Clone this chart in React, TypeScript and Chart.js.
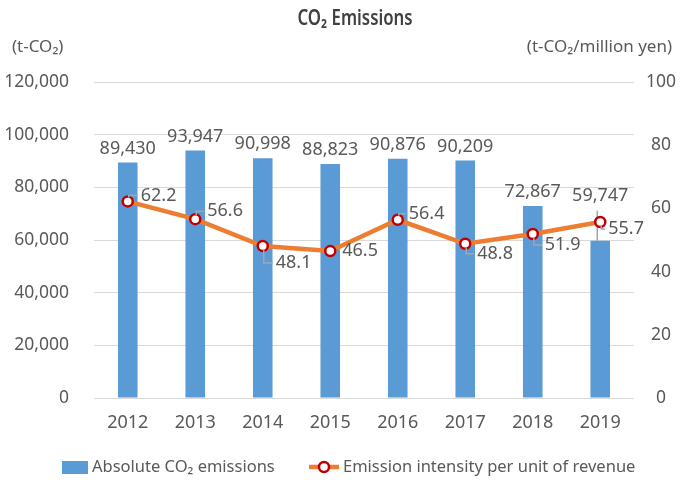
import React, { useEffect, useRef } from "react";
import { Chart, registerables } from "chart.js";

Chart.register(...registerables);

const years = ["2012", "2013", "2014", "2015", "2016", "2017", "2018", "2019"];
const absoluteEmissions = [89430, 93947, 90998, 88823, 90876, 90209, 72867, 59747];
const emissionIntensity = [62.2, 56.6, 48.1, 46.5, 56.4, 48.8, 51.9, 55.7];
const leftAxisMax = 120000;
const leftAxisStep = 20000;
const rightAxisMax = 100;
const rightAxisStep = 20;

const titleText = "CO₂ Emissions";
const leftUnit = "(t-CO₂)";
const rightUnit = "(t-CO₂/million yen)";
const barLegend = "Absolute CO₂ emissions";
const lineLegend = "Emission intensity per unit of revenue";

// label styling (offsets relative to the mark, in px)
const intensityLabelOffsets: [number, number][] = [
  [13, -6], [12, -8], [13, 17], [12, 0], [11, -6], [12, 10], [12, 11], [8, 7],
];
const barLabelLift = [0, 0, 0, 0, 0, 0, 0, 31];

const FONT = '"Noto Sans", sans-serif';
const TEXT = "#595959";
const BAR = "#5B9BD5";
const LINE = "#ED7D31";
const POINT = "#C00000";
const LEADER = "#A6A6A6";

const labelPlugin = {
  id: "customLabels",
  afterDatasetDraw(chart: any, args: any) {
    const ctx = chart.ctx;
    if (args.index === 0) {
      const meta = chart.getDatasetMeta(0);
      ctx.save();
      ctx.font = `18px ${FONT}`;
      ctx.fillStyle = TEXT;
      ctx.textAlign = "center";
      ctx.textBaseline = "middle";
      meta.data.forEach((el: any, i: number) => {
        const lift = barLabelLift[i];
        const ly = el.y - 14 - lift;
        if (lift > 0) {
          ctx.strokeStyle = LEADER;
          ctx.lineWidth = 1.5;
          ctx.beginPath();
          ctx.moveTo(el.x - 3, el.y);
          ctx.lineTo(el.x - 3, ly + 15);
          ctx.stroke();
        }
        ctx.fillText(absoluteEmissions[i].toLocaleString("en-US"), el.x, ly);
      });
      ctx.restore();
    }
  },
  afterDatasetsDraw(chart: any) {
    const ctx = chart.ctx;
    const meta = chart.getDatasetMeta(1);
    ctx.save();
    ctx.font = `18px ${FONT}`;
    ctx.fillStyle = TEXT;
    ctx.textAlign = "left";
    ctx.textBaseline = "middle";
    meta.data.forEach((el: any, i: number) => {
      const [dx, dy] = intensityLabelOffsets[i];
      const px = el.x, py = el.y;
      if (Math.abs(dy) > 3) {
        const s = Math.sign(dy);
        ctx.strokeStyle = LEADER;
        ctx.lineWidth = 1.5;
        ctx.beginPath();
        ctx.moveTo(px + 1, py + s * 4);
        ctx.lineTo(px + 1, py + dy);
        ctx.lineTo(px + dx - 3, py + dy);
        ctx.stroke();
      }
      ctx.fillText(emissionIntensity[i].toFixed(1), px + dx, py + dy);
    });
    ctx.restore();
  },
  afterDraw(chart: any) {
    const ctx = chart.ctx;
    ctx.save();
    // title (condensed)
    ctx.fillStyle = "#404040";
    ctx.font = `600 21px ${FONT}`;
    ctx.textAlign = "center";
    ctx.textBaseline = "middle";
    ctx.save();
    ctx.translate(355, 19);
    ctx.scale(0.8, 1);
    ctx.fillText(titleText, 0, 0);
    ctx.restore();
    // units
    ctx.fillStyle = TEXT;
    ctx.font = `17px ${FONT}`;
    ctx.textAlign = "left";
    ctx.fillText(leftUnit, 12, 47);
    ctx.textAlign = "right";
    ctx.fillText(rightUnit, 672, 47);
    // legend
    const ly = 467;
    ctx.font = `16.5px ${FONT}`;
    ctx.fillStyle = BAR;
    ctx.fillRect(62, ly - 6, 26, 13);
    ctx.fillStyle = TEXT;
    ctx.textAlign = "left";
    ctx.fillText(barLegend, 92, ly);
    ctx.strokeStyle = LINE;
    ctx.lineWidth = 4.5;
    ctx.beginPath();
    ctx.moveTo(309, ly);
    ctx.lineTo(339, ly);
    ctx.stroke();
    ctx.beginPath();
    ctx.arc(324, ly, 5, 0, Math.PI * 2);
    ctx.fillStyle = "#ffffff";
    ctx.fill();
    ctx.strokeStyle = POINT;
    ctx.lineWidth = 2.5;
    ctx.stroke();
    ctx.fillStyle = TEXT;
    ctx.fillText(lineLegend, 343, ly);
    ctx.restore();
  },
};

export default function App() {
  const ref = useRef<HTMLCanvasElement | null>(null);
  useEffect(() => {
    document.body.style.margin = "0";
    if (!ref.current) return;
    const chart = new Chart(ref.current, {
      type: "bar",
      data: {
        labels: years,
        datasets: [
          {
            type: "bar",
            label: barLegend,
            data: absoluteEmissions,
            backgroundColor: BAR,
            yAxisID: "y",
            order: 1,
            categoryPercentage: 1,
            barPercentage: 0.29,
          },
          {
            type: "line",
            label: lineLegend,
            data: emissionIntensity,
            borderColor: LINE,
            borderWidth: 4.5,
            pointRadius: 5,
            pointBorderWidth: 2.5,
            pointBackgroundColor: "#ffffff",
            pointBorderColor: POINT,
            yAxisID: "y1",
            order: 0,
            tension: 0,
          } as any,
        ],
      },
      options: {
        animation: false,
        responsive: false,
        maintainAspectRatio: false,
        layout: { padding: { top: 82, bottom: 42, left: 0, right: 0 } },
        plugins: {
          legend: { display: false },
          title: { display: false },
          tooltip: { enabled: false },
        },
        scales: {
          x: {
            grid: { display: false, drawTicks: false },
            border: { display: false },
            ticks: { color: TEXT, font: { family: FONT, size: 18 }, padding: 14 },
            afterFit: (s: any) => { s.height = 40; },
          },
          y: {
            position: "left",
            min: 0,
            max: leftAxisMax,
            ticks: {
              stepSize: leftAxisStep,
              color: TEXT,
              font: { family: FONT, size: 17.5 },
              padding: 25,
              callback: (v: any) => Number(v).toLocaleString("en-US"),
            },
            grid: { color: "#D9D9D9", lineWidth: 1, drawTicks: false },
            border: { display: false },
            afterFit: (s: any) => { s.width = 94; },
          },
          y1: {
            position: "right",
            min: 0,
            max: rightAxisMax,
            ticks: {
              stepSize: rightAxisStep,
              color: TEXT,
              font: { family: FONT, size: 17.5 },
              padding: 12,
              crossAlign: "center",
            },
            grid: { display: false, drawTicks: false },
            border: { display: false },
            afterFit: (s: any) => { s.width = 46; },
          },
        },
      } as any,
      plugins: [labelPlugin],
    });
    return () => chart.destroy();
  }, []);
  return <canvas ref={ref} width={680} height={480} style={{ display: "block" }} />;
}
